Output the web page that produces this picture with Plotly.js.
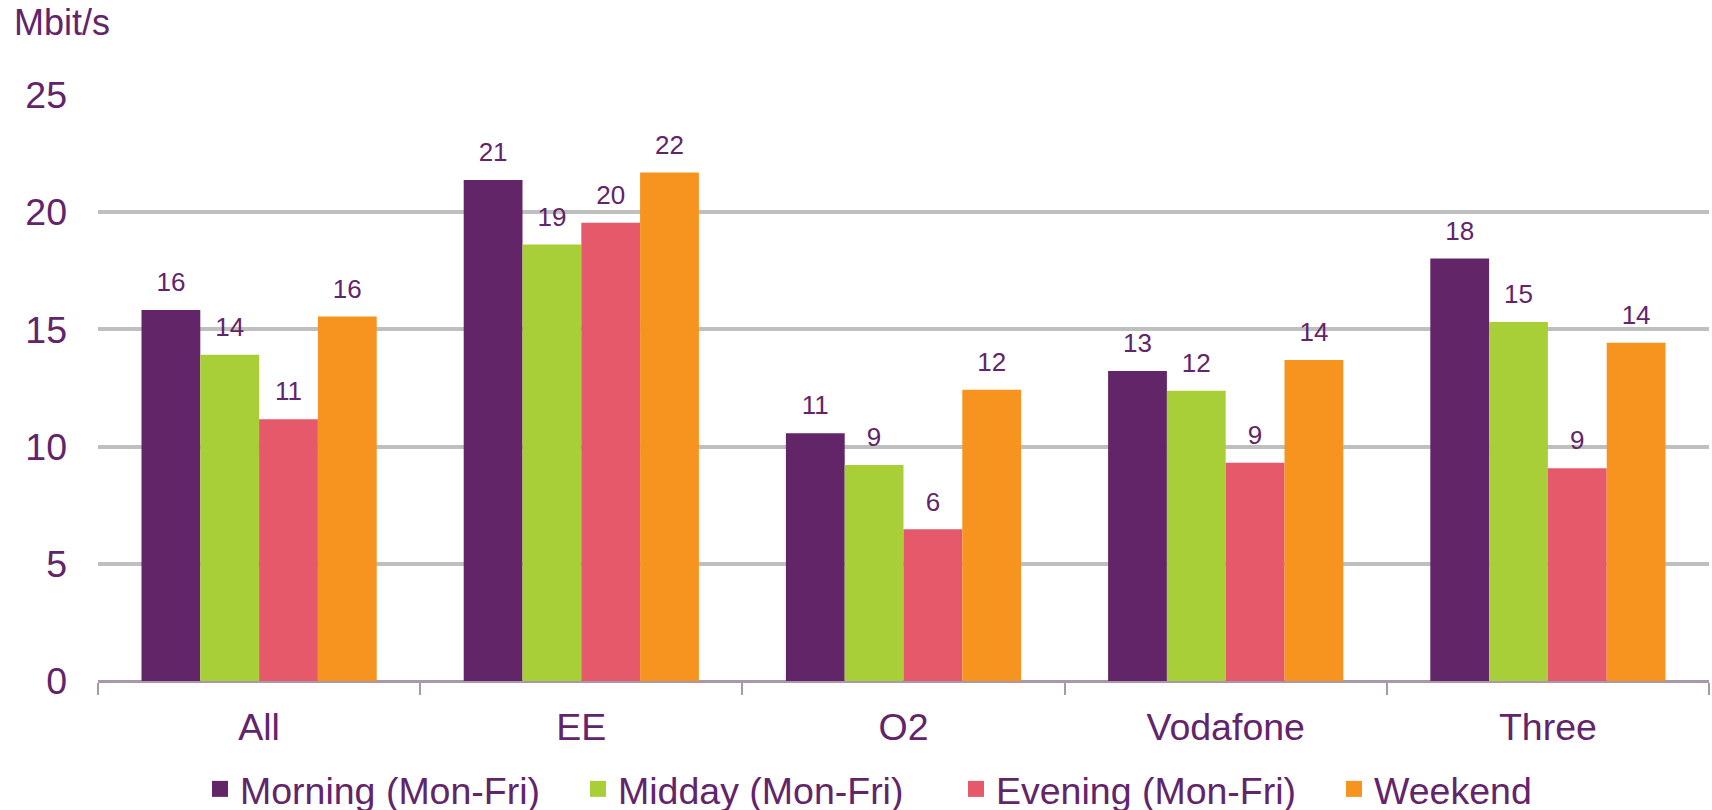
<!DOCTYPE html>
<html>
<head>
<meta charset="utf-8">
<script src="https://cdn.plot.ly/plotly-3.0.1.min.js"></script>
<style>
  html, body { margin: 0; padding: 0; background: #ffffff; }
  #chart { width: 1712px; height: 810px; }
</style>
</head>
<body>
<div id="chart"></div>
<script>
// ---- data ----
const categories = ["All", "EE", "O2", "Vodafone", "Three"];
const seriesNames = ["Morning (Mon-Fri)", "Midday (Mon-Fri)", "Evening (Mon-Fri)", "Weekend"];
const morning = [15.83, 21.37, 10.57, 13.22, 18.02];
const midday  = [13.92, 18.62, 9.22, 12.38, 15.32];
const evening = [11.17, 19.55, 6.47, 9.31, 9.08];
const weekend = [15.55, 21.69, 12.43, 13.69, 14.43];
const yTickVals = [0, 5, 10, 15, 20, 25];
const unitLabel = "Mbit/s";

// ---- style ----
const colors = ["#622567", "#a8cf38", "#e5596a", "#f6941f"];
const textColor = "#62246a";
const font = "Arial, 'Liberation Sans', sans-serif";
const bigSize = 37.5;
const seriesValues = [morning, midday, evening, weekend];

const traces = [];
seriesValues.forEach((vals, i) => {
  traces.push({
    type: "bar",
    name: seriesNames[i],
    x: categories,
    y: vals,
    offsetgroup: String(i),
    marker: { color: colors[i], line: { width: 0 } },
    showlegend: false,
    hoverinfo: "x+y+name"
  });
});
// value labels, grouped like the bars
seriesValues.forEach((vals, i) => {
  traces.push({
    type: "scatter",
    mode: "markers+text",
    x: categories,
    y: vals,
    offsetgroup: String(i),
    marker: { size: 18, opacity: 0, color: colors[i] },
    text: vals.map(v => String(Math.round(v))),
    textposition: "top center",
    textfont: { family: font, size: 26, color: textColor },
    showlegend: false,
    cliponaxis: false,
    hoverinfo: "skip"
  });
});
// legend entries
seriesValues.forEach((vals, i) => {
  traces.push({
    type: "scatter",
    mode: "markers",
    name: seriesNames[i],
    x: [null],
    y: [null],
    marker: { symbol: "square", size: 18, color: colors[i] },
    showlegend: true,
    hoverinfo: "skip"
  });
});

const layout = {
  width: 1712,
  height: 810,
  margin: { l: 98, r: 3, t: 95, b: 129, pad: 0 },
  paper_bgcolor: "#ffffff",
  plot_bgcolor: "#ffffff",
  barmode: "group",
  scattermode: "group",
  bargap: 0.27,
  bargroupgap: 0,
  scattergap: 0.27,
  font: { family: font, color: textColor, size: bigSize },
  showlegend: true,
  legend: {
    orientation: "h",
    x: 0.546,
    xanchor: "center",
    xref: "paper",
    yref: "container",
    y: 1 - 789 / 810,
    yanchor: "middle",
    font: { family: font, size: bigSize, color: textColor },
    entrywidth: 333,
    entrywidthmode: "pixels",
    itemclick: false,
    bgcolor: "rgba(0,0,0,0)"
  },
  xaxis: {
    type: "category",
    categoryorder: "array",
    categoryarray: categories,
    showgrid: false,
    showline: true,
    linecolor: "#a898a8",
    linewidth: 2,
    ticks: "outside",
    tickson: "boundaries",
    ticklen: 12,
    tickwidth: 2,
    tickcolor: "#a898a8",
    ticklabelstandoff: 12,
    tickfont: { family: font, size: bigSize, color: textColor },
    zeroline: false,
    fixedrange: true
  },
  yaxis: {
    range: [0, 25],
    tickvals: yTickVals,
    ticktext: yTickVals.map(String),
    showgrid: true,
    gridcolor: "#bfbfbf",
    gridwidth: 4,
    zeroline: true,
    zerolinecolor: "#a898a8",
    zerolinewidth: 2,
    showline: false,
    ticks: "",
    ticklabelstandoff: 30,
    tickfont: { family: font, size: bigSize, color: textColor },
    fixedrange: true
  },
  annotations: [{
    text: unitLabel,
    xref: "paper", yref: "paper",
    x: -98 / 1611 + 12 / 1611,
    y: 1 + (95 - 23) / 586,
    xanchor: "left",
    yanchor: "middle",
    showarrow: false,
    font: { family: font, size: 36, color: textColor }
  }]
};

Plotly.newPlot("chart", traces, layout, { displayModeBar: false, staticPlot: true });
</script>
</body>
</html>
